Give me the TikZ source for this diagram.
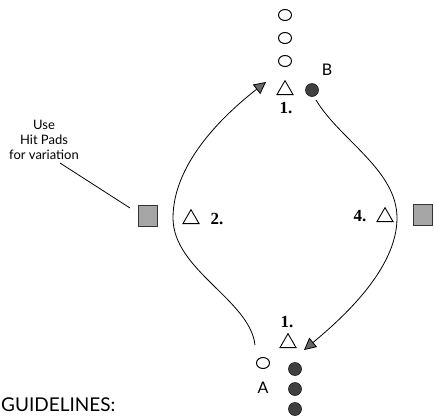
\documentclass[tikz,border=0pt]{standalone}
\usepackage{fontspec}
\setmainfont{Liberation Serif}
\newfontfamily\gill{Lato}
\usetikzlibrary{arrows.meta,shapes.geometric}
\tikzset{
  opencirc/.style={ellipse,draw,line width=1pt,minimum width=13pt,minimum height=11pt,inner sep=0pt},
  fillcirc/.style={circle,draw=black!90,fill=black!75,line width=0.6pt,minimum size=13pt,inner sep=0pt},
  tri/.style={isosceles triangle,isosceles triangle apex angle=60,shape border rotate=90,draw,line width=0.9pt,minimum height=14pt,inner sep=0pt},
  pad/.style={rectangle,draw=black!80,fill=black!35,line width=0.9pt,minimum width=19pt,minimum height=21pt,inner sep=0pt},
  numlbl/.style={font=\fontsize{17}{17}\selectfont\bfseries,inner sep=0pt},
  letlbl/.style={font=\gill\fontsize{16}{16}\selectfont,inner sep=0pt},
  note/.style={font=\gill\fontsize{13}{15}\selectfont,align=center,inner sep=0pt},
  route/.style={line width=0.8pt,-{Triangle[length=12pt,width=12pt,fill=black!60]}},
}
\begin{document}
\begin{tikzpicture}[x=1pt,y=-1pt]
\useasboundingbox (0,0) rectangle (436,416);
% top column
\node[opencirc] (c1) at (285,15) {};
\node[opencirc] (c2) at (285,38) {};
\node[opencirc] (c3) at (285,61) {};
\node[tri] (t1) at (285,90) {};
\node[fillcirc] (f1) at (312,90) {};
\node[letlbl] (lB) at (327,70) {B};
\node[numlbl] (n1t) at (286,108) {1.};
% bottom column
\node[numlbl] (n1b) at (287,322) {1.};
\node[tri] (t2) at (288,343) {};
\node[opencirc] (c4) at (263,363) {};
\node[letlbl] (lA) at (263,388) {A};
\node[fillcirc] (f2) at (295,369) {};
\node[fillcirc] (f3) at (295,389) {};
\node[fillcirc] (f4) at (295,409) {};
% sides
\node[pad] (p1) at (148,216) {};
\node[tri] (t3) at (191,219) {};
\node[numlbl] (n2) at (217,219) {2.};
\node[pad] (p2) at (423,215) {};
\node[tri] (t4) at (385,217) {};
\node[numlbl] (n4) at (360,216) {4.};
% note
\node[note] (nt) at (44,140) {Use\\Hit Pads\\for variation};
\coordinate (ls) at (60,163);
\coordinate (le) at (130,208);
\draw[line width=0.8pt] (ls) -- (le);
% routes
\coordinate (a1) at (255,345);
\coordinate (a2) at (173,218);
\coordinate (a3) at (266,82);
\draw[route] (a1) .. controls (250,300) and (173,270) .. (a2) .. controls (173,160) and (230,110) .. (a3);
\coordinate (b1) at (316,100);
\coordinate (b2) at (397,218);
\coordinate (b3) at (304,350);
\draw[route] (b1) .. controls (340,140) and (397,170) .. (b2) .. controls (397,270) and (340,320) .. (b3);
% heading
\node[font=\gill\fontsize{19}{19}\selectfont,anchor=north west,inner sep=0pt] (gd) at (1,398) {GUIDELINES:};
\end{tikzpicture}
\end{document}
